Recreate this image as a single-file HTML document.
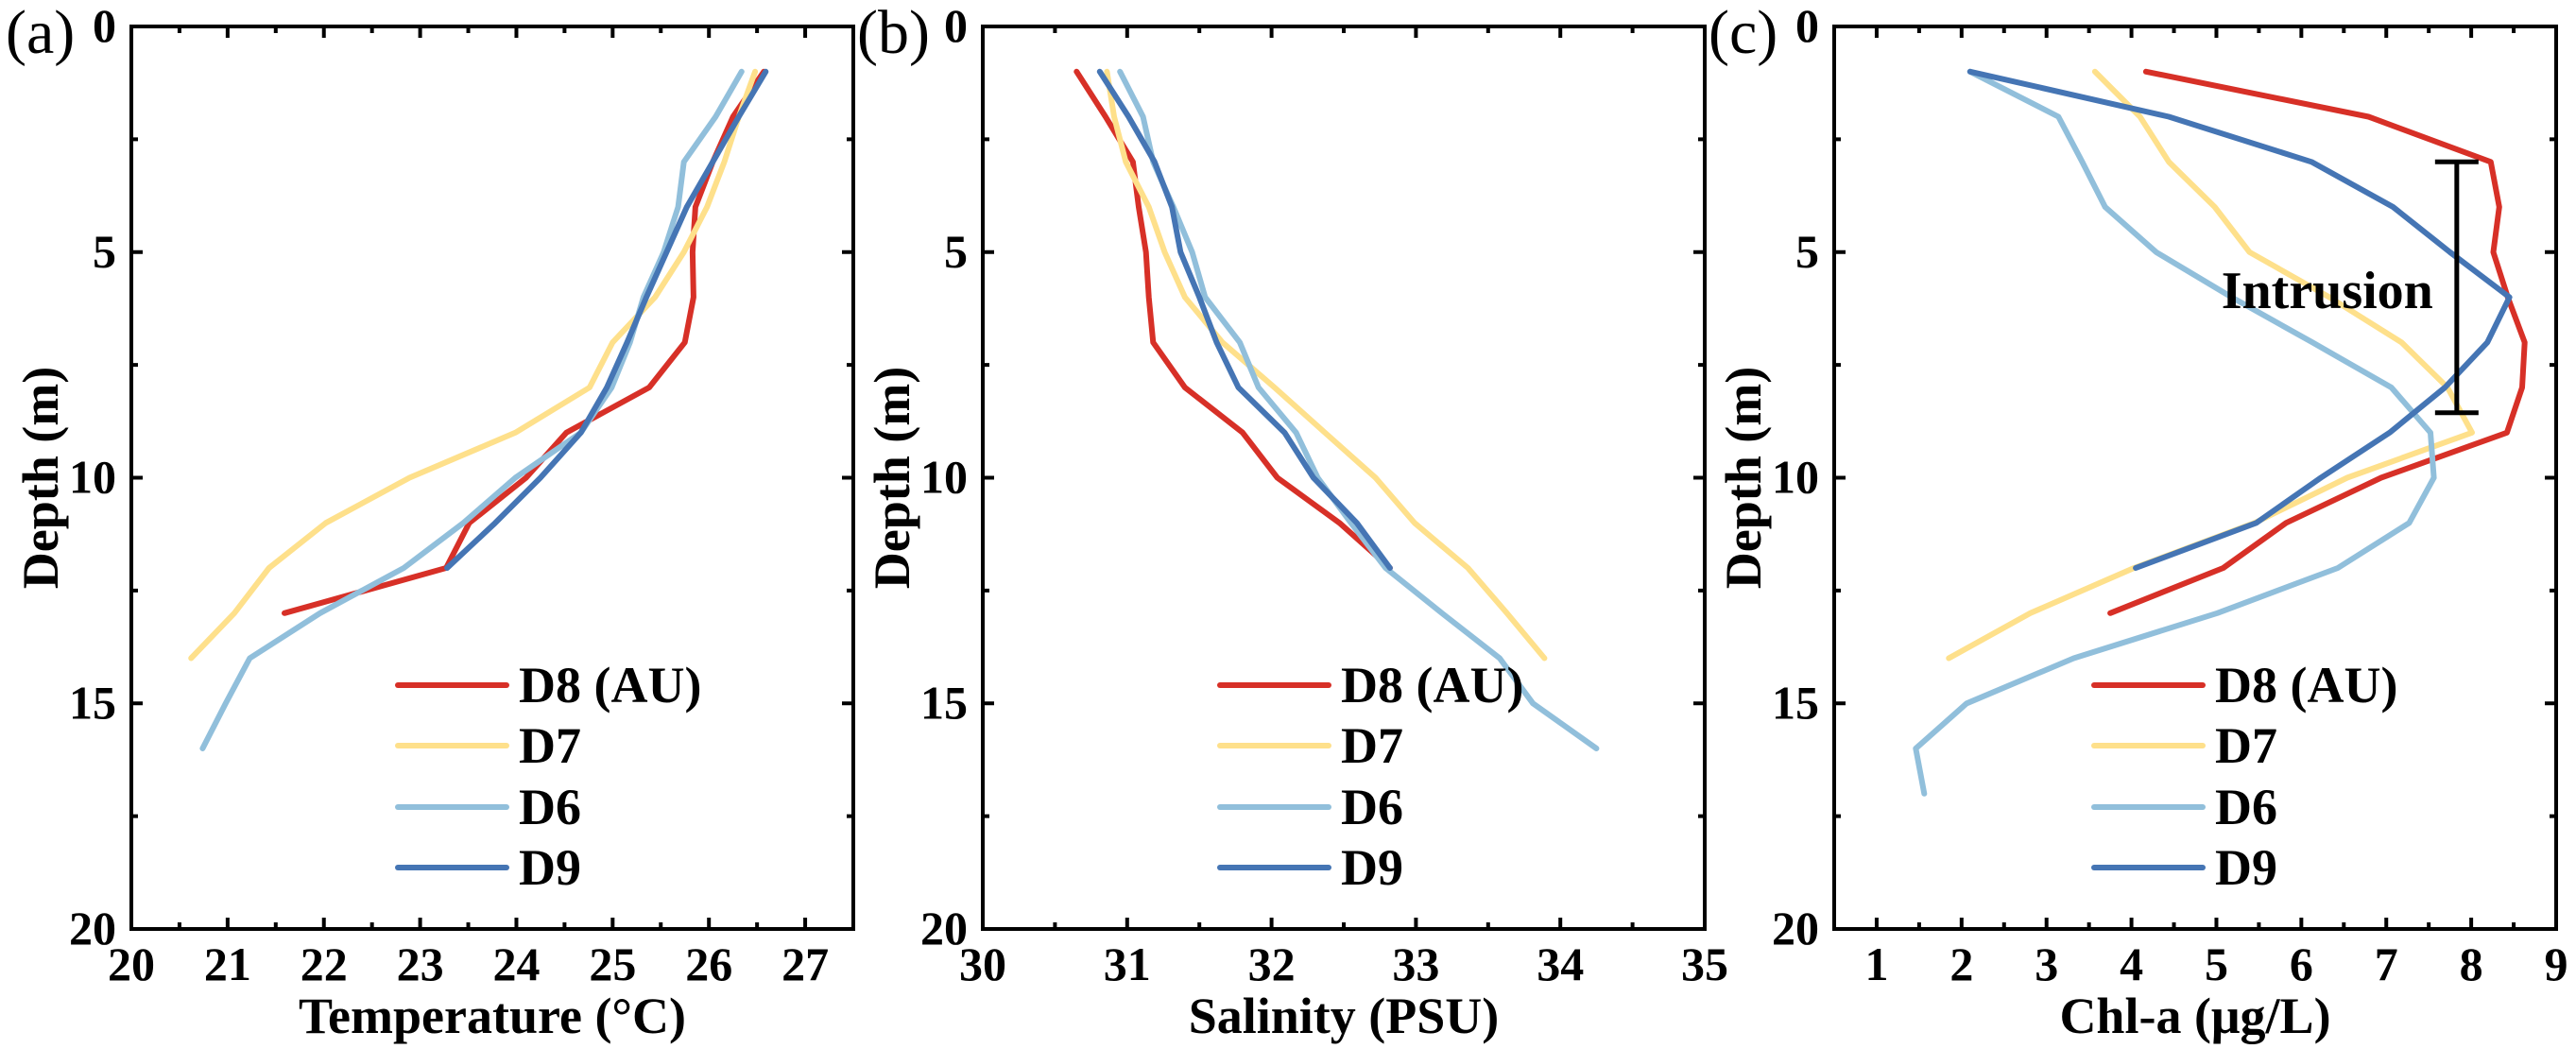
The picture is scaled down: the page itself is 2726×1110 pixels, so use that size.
<!DOCTYPE html>
<html><head><meta charset="utf-8">
<style>
html,body{margin:0;padding:0;background:#fff;}
svg{display:block;}
svg text{font-family:"Liberation Serif","Times New Roman","DejaVu Serif",serif !important;font-weight:bold;fill:#000;}
svg text.plain{font-weight:normal !important;}
</style></head>
<body>
<svg id="chart" width="2726" height="1110" viewBox="0 0 2726 1110" xmlns="http://www.w3.org/2000/svg" font-family="Liberation Serif, serif"></svg>
<script>
// ---- data ----
const stations = ["D8 (AU)", "D7", "D6", "D9"];
const colors = ["#d73027", "#fee08b", "#91bfdb", "#4575b4"];
const depthTicks = [0, 5, 10, 15, 20];
// Temperature (°C), depths start at 1 m step 1 m
const tempD8 = [26.57, 26.25, 26.04, 25.86, 25.83, 25.84, 25.75, 25.38, 24.52, 24.10, 23.51, 23.27, 21.59];
const tempD7 = [26.48, 26.31, 26.16, 25.98, 25.74, 25.44, 25.00, 24.76, 23.99, 22.89, 22.02, 21.43, 21.07, 20.62];
const tempD6 = [26.34, 26.07, 25.74, 25.68, 25.53, 25.32, 25.18, 24.99, 24.67, 23.99, 23.45, 22.83, 21.96, 21.23, 20.98, 20.74];
const tempD9 = [26.59, 26.31, 26.04, 25.77, 25.56, 25.35, 25.15, 24.94, 24.67, 24.25, 23.78, 23.28];
const tempTicks = [20, 21, 22, 23, 24, 25, 26, 27];
// Salinity (PSU)
const salD8 = [30.65, 30.85, 31.04, 31.08, 31.13, 31.15, 31.18, 31.40, 31.80, 32.04, 32.47, 32.82];
const salD7 = [30.86, 30.91, 30.99, 31.15, 31.26, 31.40, 31.66, 32.02, 32.37, 32.72, 32.99, 33.36, 33.63, 33.89];
const salD6 = [30.95, 31.11, 31.18, 31.32, 31.45, 31.54, 31.78, 31.91, 32.17, 32.32, 32.55, 32.79, 33.18, 33.58, 33.81, 34.25];
const salD9 = [30.81, 31.01, 31.19, 31.31, 31.37, 31.50, 31.62, 31.77, 32.09, 32.29, 32.59, 32.82];
const salTicks = [30, 31, 32, 33, 34, 35];
// Chl-a (µg/L)
const chlD8 = [4.17, 6.79, 8.23, 8.33, 8.26, 8.43, 8.63, 8.60, 8.42, 6.94, 5.82, 5.08, 3.75];
const chlD7 = [3.57, 4.10, 4.44, 4.98, 5.39, 6.33, 7.18, 7.72, 8.01, 6.54, 5.45, 4.03, 2.81, 1.85];
const chlD6 = [2.10, 3.14, 3.42, 3.69, 4.29, 5.18, 6.13, 7.06, 7.52, 7.56, 7.27, 6.43, 5.01, 3.32, 2.06, 1.46, 1.56];
const chlD9 = [2.10, 4.44, 6.12, 7.08, 7.75, 8.45, 8.19, 7.69, 7.04, 6.23, 5.47, 4.05];
const chlTicks = [1, 2, 3, 4, 5, 6, 7, 8, 9];
const intrusionX = 7.83, intrusionTop = 3.0, intrusionBottom = 8.56;

const NS = "http://www.w3.org/2000/svg";
const svg = document.getElementById("chart");
const FF = '"Liberation Serif", "Times New Roman", serif';
function mk(tag, attrs, parent) {
  const e = document.createElementNS(NS, tag);
  for (const k in attrs) e.setAttribute(k, attrs[k]);
  if (tag === "text") { e.setAttribute("font-family", FF); if (!attrs["font-weight"]) e.setAttribute("font-weight", "bold"); }
  (parent || svg).appendChild(e);
  return e;
}
const Y0 = 28, Y1 = 983;
const yScale = d => Y0 + (d / 20) * (Y1 - Y0);

function panel(key, label, x0, x1, xmin, xmax, ticks, title, series, legendX) {
  const g = mk("g", {});
  
  
  const xs = v => x0 + (v - xmin) / (xmax - xmin) * (x1 - x0);
  series.forEach((vals, i) => {
    const pts = vals.map((v, j) => xs(v).toFixed(1) + "," + yScale(j + 1).toFixed(1)).join(" ");
    const pl = mk("polyline", {points: pts, fill: "none", stroke: colors[i], "stroke-width": 6, "stroke-linejoin": "round", "stroke-linecap": "round"}, g);
    
    
  });
  const fr = mk("rect", {x: x0, y: Y0, width: x1 - x0, height: Y1 - Y0, fill: "none", stroke: "#000", "stroke-width": 4}, g);
  
  
  for (let v = Math.ceil(xmin * 2) / 2; v <= xmax + 1e-6; v += 0.5) {
    const major = Math.abs(v - Math.round(v)) < 1e-6;
    const L = major ? 12 : 7, x = xs(v);
    mk("line", {x1: x, y1: Y1, x2: x, y2: Y1 - L, stroke: "#000", "stroke-width": 4}, g);
    mk("line", {x1: x, y1: Y0, x2: x, y2: Y0 + L, stroke: "#000", "stroke-width": 4}, g);
  }
  ticks.forEach(v => {
    const t = mk("text", {x: xs(v), y: 1037, "font-size": 50, "text-anchor": "middle"}, g);
    t.textContent = v;
    
    
  });
  for (let d = 2.5; d < 20; d += 2.5) {
    const major = d % 5 === 0;
    const L = major ? 12 : 7, y = yScale(d);
    mk("line", {x1: x0, y1: y, x2: x0 + L, y2: y, stroke: "#000", "stroke-width": 4}, g);
    mk("line", {x1: x1, y1: y, x2: x1 - L, y2: y, stroke: "#000", "stroke-width": 4}, g);
  }
  depthTicks.forEach(d => {
    const t = mk("text", {x: x0 - 16, y: yScale(d) + 16, "font-size": 50, "text-anchor": "end"}, g);
    t.textContent = d;
    
    
  });
  const xt = mk("text", {x: (x0 + x1) / 2, y: 1093, "font-size": 54, "text-anchor": "middle"}, g);
  xt.textContent = title;
  
  
  const cx = x0 - 96, cy = (Y0 + Y1) / 2;
  const yt = mk("text", {x: cx, y: cy + 18, "font-size": 54, "text-anchor": "middle", transform: `rotate(-90 ${cx} ${cy})`}, g);
  yt.textContent = "Depth (m)";
  
  
  const pl = mk("text", {x: x0 - 133, y: 56, "font-size": 66, "font-weight": "normal", "class": "plain"}, g);
  pl.textContent = label;
  
  
  const lg = mk("g", {}, g);
  
  
  const rows = [725, 789, 854, 918];
  stations.forEach((s, i) => {
    const ln = mk("line", {x1: legendX, y1: rows[i], x2: legendX + 115, y2: rows[i], stroke: colors[i], "stroke-width": 6, "stroke-linecap": "round"}, lg);
    
    
    const tx = mk("text", {x: legendX + 128, y: rows[i] + 18, "font-size": 54}, lg);
    tx.textContent = s;
    
    
  });
  return xs;
}

panel("a", "(a)", 139, 903, 20, 27.5, tempTicks, "Temperature (\u00B0C)", [tempD8, tempD7, tempD6, tempD9], 421);
panel("b", "(b)", 1040, 1804, 30, 35, salTicks, "Salinity (PSU)", [salD8, salD7, salD6, salD9], 1291);
const xc = panel("c", "(c)", 1941, 2705, 0.5, 9, chlTicks, "Chl-a (\u03BCg/L)", [chlD8, chlD7, chlD6, chlD9], 2216);

const ig = mk("g", {});


const ix = xc(intrusionX), iy0 = yScale(intrusionTop), iy1 = yScale(intrusionBottom);
mk("line", {x1: ix, y1: iy0, x2: ix, y2: iy1, stroke: "#000", "stroke-width": 5}, ig);
mk("line", {x1: ix - 23, y1: iy0, x2: ix + 23, y2: iy0, stroke: "#000", "stroke-width": 5}, ig);
mk("line", {x1: ix - 23, y1: iy1, x2: ix + 23, y2: iy1, stroke: "#000", "stroke-width": 5}, ig);
const it = mk("text", {x: ix - 25, y: 326, "font-size": 56, "text-anchor": "end"});
it.textContent = "Intrusion";


</script>
</body></html>
